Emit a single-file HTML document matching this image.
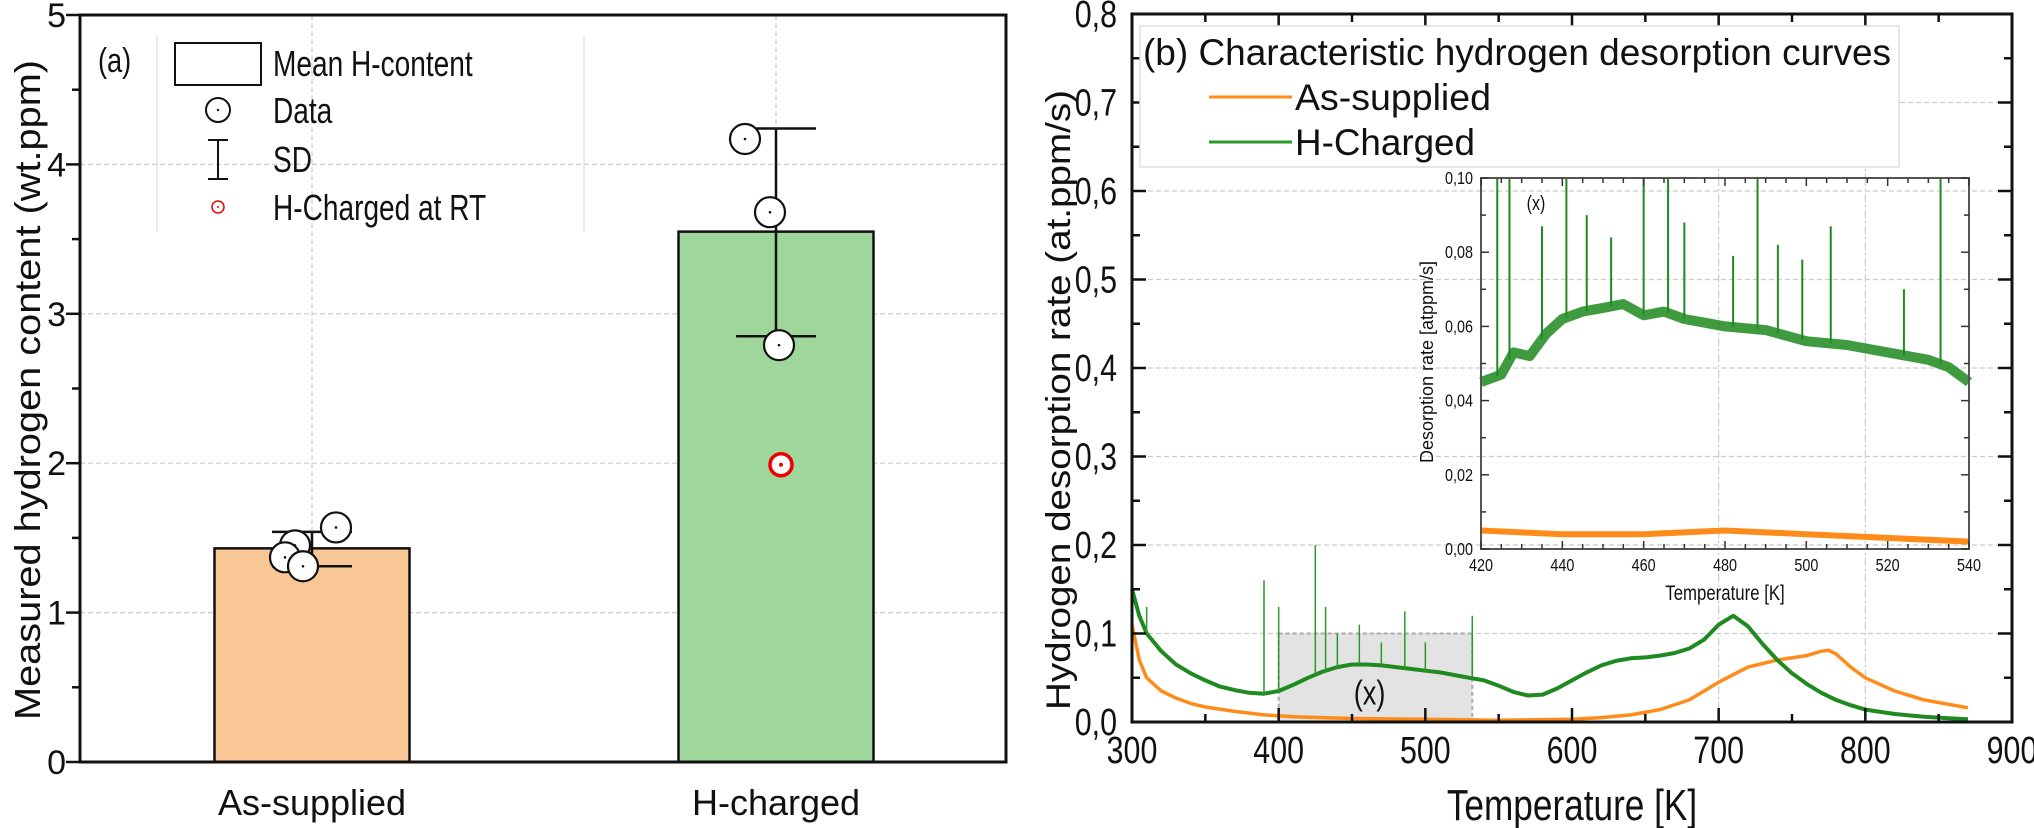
<!DOCTYPE html>
<html><head><meta charset="utf-8"><style>
html,body{margin:0;padding:0;background:#fff}
svg{display:block}
text{font-family:"Liberation Sans",Arial,sans-serif;fill:#111}
</style></head><body>
<svg id="fig" width="2034" height="828" viewBox="0 0 2034 828" xmlns="http://www.w3.org/2000/svg">
<g id="left"></g>
<g id="right"></g>
</svg>
<script>
// ---------- Panel (a) data ----------
const catLabels = ["As-supplied","H-charged"];
const barMeans = [1.43, 3.55];
const sdLow = [1.31, 2.85];
const sdHigh = [1.54, 4.24];
const ptsAs = [1.57, 1.45, 1.37, 1.31];
const ptsAsOff = [24, -17, -27, -9];
const ptsH = [4.17, 3.68, 2.79];
const ptsHOff = [-31, -6, 3];
const rtPoint = [1.99];
const yTicksA = [0,1,2,3,4,5];

// ---------- Panel (b) data ----------
const tAs = [300,305,310,320,330,340,350,370,390,410,450,500,550,600,620,640,660,680,700,720,740,760,770,775,780,790,800,820,840,860,870];
const rAs = [0.11,0.07,0.05,0.035,0.027,0.021,0.017,0.012,0.008,0.006,0.004,0.003,0.002,0.003,0.005,0.008,0.014,0.025,0.045,0.062,0.07,0.075,0.08,0.081,0.077,0.062,0.05,0.035,0.025,0.019,0.016];
const tH = [300,305,310,320,330,340,350,360,370,380,390,400,410,420,430,440,450,460,470,480,490,500,510,520,530,540,550,560,570,580,590,600,610,620,630,640,650,660,670,680,690,700,710,720,730,740,750,760,770,780,790,800,820,840,860,870];
const rH = [0.15,0.12,0.10,0.08,0.065,0.055,0.047,0.04,0.036,0.033,0.032,0.035,0.042,0.05,0.057,0.062,0.065,0.065,0.064,0.062,0.06,0.058,0.056,0.053,0.05,0.047,0.041,0.034,0.03,0.031,0.038,0.047,0.056,0.064,0.069,0.072,0.073,0.075,0.078,0.083,0.093,0.11,0.12,0.108,0.088,0.07,0.055,0.043,0.033,0.025,0.019,0.014,0.009,0.006,0.004,0.003];
const spikeT = [310,390,400,425,432,440,455,470,486,500,532];
const spikeR = [0.13,0.16,0.13,0.20,0.13,0.10,0.11,0.09,0.125,0.09,0.12];
const xTicksB = [300,400,500,600,700,800,900];
const yTicksB = [0,0.1,0.2,0.3,0.4,0.5,0.6,0.7,0.8];

// ---------- Inset data ----------
const tInH = [420,425,428,432,436,440,445,450,455,460,465,470,475,480,490,500,510,520,530,535,540];
const rInH = [0.045,0.047,0.053,0.052,0.058,0.062,0.064,0.065,0.066,0.063,0.064,0.062,0.061,0.06,0.059,0.056,0.055,0.053,0.051,0.049,0.045];
const tInAs = [420,440,460,480,500,520,540];
const rInAs = [0.005,0.004,0.004,0.005,0.004,0.003,0.002];
const inSpikeT = [424,427,435,441,446,452,460,466,470,482,488,493,499,506,524,533];
const inSpikeR = [0.1,0.1,0.087,0.1,0.09,0.084,0.1,0.1,0.088,0.079,0.1,0.082,0.078,0.087,0.07,0.1];
const xTicksIn = [420,440,460,480,500,520,540];
const yTicksIn = [0,0.02,0.04,0.06,0.08,0.10];

const NS="http://www.w3.org/2000/svg";
function mk(parent,tag,attrs,txt){const e=document.createElementNS(NS,tag);for(const k in attrs)e.setAttribute(k,attrs[k]);if(txt!==undefined)e.textContent=txt;parent.appendChild(e);return e;}
// narrow text: horizontally condensed
function nt(parent,x,y,anchor,size,str,sx){return mk(parent,'text',{x:0,y:0,'text-anchor':anchor,'font-size':size,transform:'translate('+x+','+y+') scale('+(sx||0.8)+',1)'},str);}
const fmt=(v,d)=>v.toFixed(d).replace('.',',');

// ===== Panel a =====
const L=document.getElementById('left');
const ax={l:80,r:1006,t:15,b:762};
const ya=v=>ax.b-(v/5)*(ax.b-ax.t);
const catX=[312,776];
const barW=195;
yTicksA.slice(1,5).forEach(v=>{const g=mk(L,'line',{x1:ax.l,x2:ax.r,y1:ya(v),y2:ya(v),stroke:'#ccc','stroke-width':1.2,'stroke-dasharray':'5 3'});

});
catX.forEach(x=>{const g=mk(L,'line',{x1:x,x2:x,y1:ax.t,y2:ax.b,stroke:'#ccc','stroke-width':1.2,'stroke-dasharray':'5 3'});

});
const barColors=['#f9c796','#9ed69c'];
barMeans.forEach((v,i)=>{const b=mk(L,'rect',{x:catX[i]-barW/2,y:ya(v),width:barW,height:ax.b-ya(v),fill:barColors[i],stroke:'#111','stroke-width':2.5});

});
sdLow.forEach((lo,i)=>{const g=mk(L,'g',{stroke:'#111','stroke-width':2.5});


mk(g,'line',{x1:catX[i],x2:catX[i],y1:ya(lo),y2:ya(sdHigh[i])});
mk(g,'line',{x1:catX[i]-40,x2:catX[i]+40,y1:ya(lo),y2:ya(lo)});
mk(g,'line',{x1:catX[i]-40,x2:catX[i]+40,y1:ya(sdHigh[i]),y2:ya(sdHigh[i])});});
function dataPt(x,y,col){const g=mk(L,'g',{});


mk(g,'circle',{cx:x,cy:y,r:col?11:15,fill:'#fff',stroke:col||'#111','stroke-width':col?3.5:2.2});
mk(g,'circle',{cx:x,cy:y,r:col?2:1.3,fill:col||'#111'});}
ptsAs.forEach((v,i)=>dataPt(catX[0]+ptsAsOff[i],ya(v)));
ptsH.forEach((v,i)=>dataPt(catX[1]+ptsHOff[i],ya(v)));
rtPoint.forEach(v=>dataPt(catX[1]+5,ya(v),'#e00'));
const fa=mk(L,'rect',{x:ax.l,y:ax.t,width:ax.r-ax.l,height:ax.b-ax.t,fill:'none',stroke:'#111','stroke-width':3});


for(let v=0;v<=5;v+=0.5){const maj=v%1===0;mk(L,'line',{x1:ax.l-(maj?14:8),x2:ax.l,y1:ya(v),y2:ya(v),stroke:'#111','stroke-width':2.5});}
yTicksA.forEach(v=>{const t=mk(L,'text',{x:66,y:ya(v)+12,'text-anchor':'end','font-size':34},String(v));

});
catLabels.forEach((c,i)=>{const t=mk(L,'text',{x:catX[i],y:815,'text-anchor':'middle','font-size':36},c);

});
const yta=mk(L,'text',{x:0,y:0,'text-anchor':'middle','font-size':36,textLength:660,lengthAdjust:'spacingAndGlyphs',transform:'translate(40,390) rotate(-90)'},'Measured hydrogen content (wt.ppm)');


const lg=mk(L,'g',{});


nt(lg,98,72,'start',34,'(a)');
mk(lg,'line',{x1:157,x2:157,y1:36,y2:231,stroke:'#ddd','stroke-width':1.2});
mk(lg,'line',{x1:584,x2:584,y1:36,y2:231,stroke:'#ddd','stroke-width':1.2});
mk(lg,'rect',{x:175,y:43,width:86,height:42,fill:'#fff',stroke:'#111','stroke-width':2});
nt(lg,273,76,'start',36,'Mean H-content',0.78);
mk(lg,'circle',{cx:218,cy:110,r:12,fill:'#fff',stroke:'#111','stroke-width':2});
mk(lg,'circle',{cx:218,cy:110,r:1.2,fill:'#111'});
nt(lg,273,123,'start',36,'Data',0.78);
mk(lg,'path',{d:'M208 140H228M218 140V179M208 179H228',stroke:'#111','stroke-width':2,fill:'none'});
nt(lg,273,172,'start',36,'SD',0.78);
mk(lg,'circle',{cx:218,cy:207,r:6,fill:'#fff',stroke:'#e00','stroke-width':1.5});
mk(lg,'circle',{cx:218,cy:207,r:1,fill:'#e00'});
nt(lg,273,220,'start',36,'H-Charged at RT',0.78);

// ===== Panel b =====
const R=document.getElementById('right');
const bx={l:1132,r:2012,t:14,b:722};
const xb=v=>bx.l+(v-300)/600*(bx.r-bx.l);
const yb=v=>bx.b-(v/0.8)*(bx.b-bx.t);
yTicksB.slice(1,8).forEach(v=>{const g=mk(R,'line',{x1:bx.l,x2:bx.r,y1:yb(v),y2:yb(v),stroke:'#ccc','stroke-width':1.2,'stroke-dasharray':'5 3'});

});
[700,800].forEach(v=>{const g=mk(R,'line',{x1:xb(v),x2:xb(v),y1:bx.t,y2:bx.b,stroke:'#ccc','stroke-width':1.2,'stroke-dasharray':'8 3 2 3'});

});
const zr=mk(R,'rect',{x:xb(400),y:yb(0.1),width:xb(532)-xb(400),height:yb(0)-yb(0.1),fill:'#e3e3e3',stroke:'#aaa','stroke-width':2,'stroke-dasharray':'4 3'});


const zl=nt(R,xb(462),yb(0.02),'middle',34,'(x)');


function path(ts,rs,fx,fy){return ts.map((t,i)=>(i?'L':'M')+fx(t).toFixed(1)+' '+fy(rs[i]).toFixed(1)).join('');}
function interp(ts,rs,t){for(let i=1;i<ts.length;i++){if(t<=ts[i]){const f=(t-ts[i-1])/(ts[i]-ts[i-1]);return rs[i-1]+f*(rs[i]-rs[i-1]);}}return rs[rs.length-1];}
const pA=mk(R,'path',{d:path(tAs,rAs,xb,yb),fill:'none',stroke:'#ff8c1a','stroke-width':3.5,'stroke-linejoin':'round'});


const pH=mk(R,'path',{d:path(tH,rH,xb,yb),fill:'none',stroke:'#1f8a1f','stroke-width':4,'stroke-linejoin':'round'});


spikeT.forEach((t,i)=>{const s=mk(R,'line',{x1:xb(t),x2:xb(t),y1:yb(interp(tH,rH,t)),y2:yb(spikeR[i]),stroke:'#2a9a2a','stroke-width':1.5});

});
const fb=mk(R,'rect',{x:bx.l,y:bx.t,width:bx.r-bx.l,height:bx.b-bx.t,fill:'none',stroke:'#111','stroke-width':3});


for(let v=300;v<=900;v+=50){const maj=v%100===0,h=maj?14:8;
mk(R,'line',{x1:xb(v),x2:xb(v),y1:bx.b,y2:bx.b-h,stroke:'#111','stroke-width':2.5});
mk(R,'line',{x1:xb(v),x2:xb(v),y1:bx.t,y2:bx.t+h,stroke:'#111','stroke-width':2.5});}
for(let k=0;k<=16;k++){const v=k*0.05,maj=k%2===0,h=maj?14:8;
mk(R,'line',{x1:bx.l,x2:bx.l+h,y1:yb(v),y2:yb(v),stroke:'#111','stroke-width':2.5});
mk(R,'line',{x1:bx.r,x2:bx.r-h,y1:yb(v),y2:yb(v),stroke:'#111','stroke-width':2.5});}
xTicksB.forEach(v=>{const t=nt(R,xb(v),763,'middle',38,String(v));

});
yTicksB.forEach(v=>{const t=nt(R,1117,yb(v)+13,'end',38,fmt(v,1));

});
const xtb=nt(R,1572,820,'middle',44,'Temperature [K]');


const ytb=mk(R,'text',{x:0,y:0,'text-anchor':'middle','font-size':34,textLength:620,lengthAdjust:'spacingAndGlyphs',transform:'translate(1070,400) rotate(-90)'},'Hydrogen desorption rate (at.ppm/s)');


const lb=mk(R,'g',{});


mk(lb,'rect',{x:1140,y:26,width:759,height:141,fill:'#fff',stroke:'#ddd','stroke-width':1.5});
mk(lb,'text',{x:1143,y:65,'font-size':37,textLength:748,lengthAdjust:'spacingAndGlyphs'},'(b) Characteristic hydrogen desorption curves');
mk(lb,'line',{x1:1209,x2:1292,y1:97,y2:97,stroke:'#ff8c1a','stroke-width':3});
mk(lb,'text',{x:1295,y:110,'font-size':37,textLength:196,lengthAdjust:'spacingAndGlyphs'},'As-supplied');
mk(lb,'line',{x1:1209,x2:1292,y1:142,y2:142,stroke:'#2a9a2a','stroke-width':3});
mk(lb,'text',{x:1295,y:155,'font-size':37,textLength:180,lengthAdjust:'spacingAndGlyphs'},'H-Charged');

// ===== Inset =====
const I=mk(R,'g',{});


const ix={l:1481,r:1969,t:178,b:549};
const xi=v=>ix.l+(v-420)/120*(ix.r-ix.l);
const yi=v=>ix.b-(v/0.1)*(ix.b-ix.t);
mk(I,'rect',{x:ix.l,y:ix.t,width:ix.r-ix.l,height:ix.b-ix.t,fill:'#fff',stroke:'none'});
[xb(700),xb(800)].forEach(x=>mk(I,'line',{x1:x,x2:x,y1:ix.t,y2:ix.b,stroke:'#ccc','stroke-width':1.2,'stroke-dasharray':'8 3 2 3'}));
[yb(0.6),yb(0.5),yb(0.4),yb(0.3),yb(0.2)].forEach(y=>{if(y>ix.t&&y<ix.b)mk(I,'line',{x1:ix.l,x2:ix.r,y1:y,y2:y,stroke:'#ccc','stroke-width':1.2,'stroke-dasharray':'5 3'});});
const iH=mk(I,'path',{d:path(tInH,rInH,xi,yi),fill:'none',stroke:'#1f8a1f','stroke-width':10,'stroke-linejoin':'round','stroke-opacity':0.85});


inSpikeT.forEach((t,i)=>{const s=mk(I,'line',{x1:xi(t),x2:xi(t),y1:yi(interp(tInH,rInH,t)),y2:yi(inSpikeR[i]),stroke:'#1f8a1f','stroke-width':2});

});
const iA=mk(I,'path',{d:path(tInAs,rInAs,xi,yi),fill:'none',stroke:'#ff8c1a','stroke-width':6,'stroke-linejoin':'round'});


mk(I,'rect',{x:ix.l,y:ix.t,width:ix.r-ix.l,height:ix.b-ix.t,fill:'none',stroke:'#555','stroke-width':2});
for(let k=0;k<=24;k++){const v=420+k*5,maj=k%4===0,h=maj?8:5;
mk(I,'line',{x1:xi(v),x2:xi(v),y1:ix.b,y2:ix.b-h,stroke:'#333','stroke-width':1.5});
mk(I,'line',{x1:xi(v),x2:xi(v),y1:ix.t,y2:ix.t+h,stroke:'#333','stroke-width':1.5});}
for(let k=0;k<=10;k++){const v=k*0.01,h=k%2===0?8:5;
mk(I,'line',{x1:ix.l,x2:ix.l+h,y1:yi(v),y2:yi(v),stroke:'#333','stroke-width':1.5});
mk(I,'line',{x1:ix.r,x2:ix.r-h,y1:yi(v),y2:yi(v),stroke:'#333','stroke-width':1.5});}
xTicksIn.forEach(v=>{const t=nt(I,xi(v),571,'middle',18,String(v));

});
yTicksIn.forEach(v=>{const t=nt(I,1473,yi(v)+6,'end',18,fmt(v,2));

});
nt(I,1725,600,'middle',21,'Temperature [K]');
mk(I,'text',{x:0,y:0,'text-anchor':'middle','font-size':18,transform:'translate(1433,362) rotate(-90)'},'Desorption rate [atppm/s]');
nt(I,1536,210,'middle',20,'(x)');
</script>
</body></html>
